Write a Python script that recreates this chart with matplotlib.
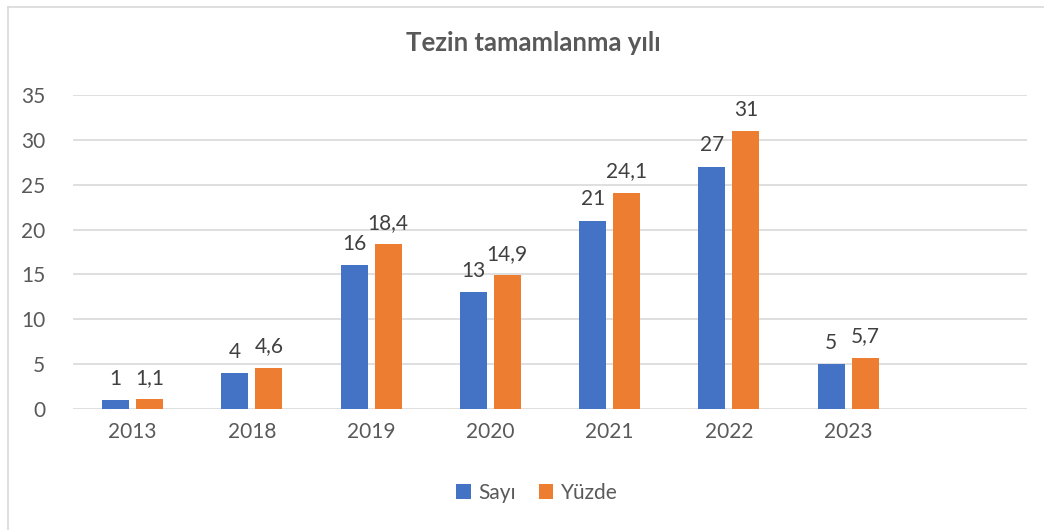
import matplotlib
matplotlib.use("Agg")
import matplotlib.pyplot as plt
import numpy as np
from matplotlib.lines import Line2D

plt.rcParams['font.family'] = ['Lato', 'DejaVu Sans']

years = ['2013', '2018', '2019', '2020', '2021', '2022', '2023']
sayi = [1, 4, 16, 13, 21, 27, 5]
yuzde = [1.1, 4.6, 18.4, 14.9, 24.1, 31, 5.7]
sayi_labels = ['1', '4', '16', '13', '21', '27', '5']
yuzde_labels = ['1,1', '4,6', '18,4', '14,9', '24,1', '31', '5,7']

W, H = 1044, 530
fig = plt.figure(figsize=(W / 100, H / 100), dpi=100)

# chart border (light gray)
fig.add_artist(Line2D([8 / W, 8 / W], [0, 1 - 7 / H], color='#D9D9D9', lw=1.2,
                      transform=fig.transFigure))
fig.add_artist(Line2D([8 / W, 1], [1 - 7 / H, 1 - 7 / H], color='#D9D9D9', lw=1.2,
                      transform=fig.transFigure))

left, right = 73 / W, 1027 / W
bottom, top = (H - 409) / H, (H - 95) / H
ax = fig.add_axes([left, bottom, right - left, top - bottom])

x = np.arange(len(years))
bw = 0.226
off = 0.142
blue = '#4472C4'
orange = '#ED7D31'
b1 = ax.bar(x - off, sayi, bw, color=blue, label='Sayı', zorder=3)
b2 = ax.bar(x + off, yuzde, bw, color=orange, label='Yüzde', zorder=3)

for xi, v, t in zip(x, sayi, sayi_labels):
    ax.annotate(t, (xi - off, v), xytext=(0, 11), textcoords='offset points',
                ha='center', va='baseline', fontsize=15, color='#404040')
for xi, v, t in zip(x, yuzde, yuzde_labels):
    ax.annotate(t, (xi + off, v), xytext=(0, 11), textcoords='offset points',
                ha='center', va='baseline', fontsize=15, color='#404040')

ax.set_xlim(-0.5, 7.5)
ax.set_ylim(0, 35)
ax.set_yticks(range(0, 36, 5))
ax.set_xticks(x)
ax.set_xticklabels(years)
ax.tick_params(axis='both', length=0, labelsize=15, colors='#595959')
ax.tick_params(axis='x', pad=9)
ax.tick_params(axis='y', pad=20)
ax.grid(axis='y', color='#D9D9D9', lw=1.2, zorder=0)
for s in ax.spines.values():
    s.set_visible(False)

fig.text(533 / W, 1 - 43 / H, 'Tezin tamamlanma yılı', ha='center', va='center',
         fontsize=18.5, fontweight='bold', color='#595959')

leg = fig.legend(handles=[b1, b2], labels=['Sayı', 'Yüzde'], loc='center',
                 bbox_to_anchor=(537 / W, 1 - 493 / H), ncol=2, frameon=False,
                 fontsize=15, handlelength=0.7, handleheight=0.7,
                 handletextpad=0.35, columnspacing=1.1, labelcolor='#595959')

fig.savefig('out.png', dpi=100, facecolor='white')
